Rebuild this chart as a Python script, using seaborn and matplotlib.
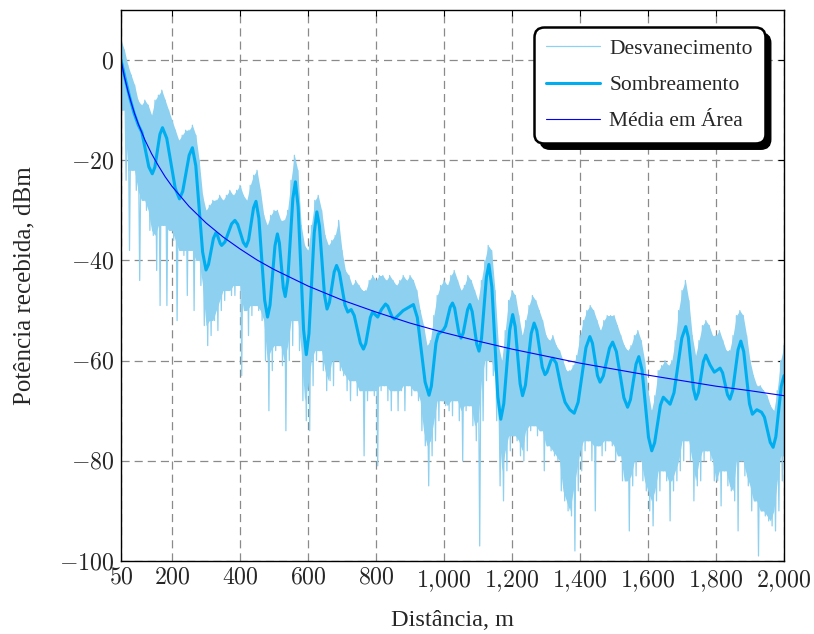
import numpy as np
import pandas as pd
import matplotlib
matplotlib.use("Agg")
import matplotlib.pyplot as plt
from matplotlib.ticker import FuncFormatter
from matplotlib.patches import FancyBboxPatch
from matplotlib.transforms import IdentityTransform
import seaborn as sns

# ---------------- data ----------------
# Area mean (Média em Área)
mean_d = [50, 60, 70, 80, 90, 100, 120, 140, 160, 180, 200, 250, 300, 350, 400, 450,
          500, 600, 700, 800, 900, 1000, 1100, 1200, 1300, 1400, 1500, 1600, 1700,
          1800, 1900, 2000]
mean_v = [0, -3.3, -6.1, -8.5, -10.7, -12.6, -15.9, -18.7, -21.1, -23.3, -25.2, -29.2,
          -32.5, -35.3, -37.7, -39.9, -41.8, -45.1, -47.9, -50.3, -52.5, -54.4, -56.1,
          -57.7, -59.1, -60.5, -61.7, -62.9, -64.0, -65.1, -66.0, -67.0]

# Shadowing (Sombreamento)
shadow_d = [50, 62, 75, 88, 101, 111.3, 131.8, 142, 149.5, 164.5, 172, 184.5, 209.5,
            222, 231.5, 250.5, 260, 270, 290, 300, 307.3, 321.8, 329, 333.3, 341.8,
            346, 355.8, 375.3, 385, 393.3, 409.8, 418, 425.3, 439.8, 447, 455.5, 472.5,
            481, 488.3, 502.8, 510, 515.8, 527.3, 533, 540.5, 555.5, 563, 571, 587,
            595, 602.8, 618.3, 626, 633.5, 648.5, 656, 663, 677, 684, 692.3, 708.8,
            717, 727, 736, 754, 763, 769.8, 783.3, 790, 805, 816, 828, 834.5, 847.5,
            854, 880, 910, 921.5, 944.5, 956, 962.8, 976.3, 983, 998, 1004.8, 1018.3,
            1025, 1031.3, 1043.8, 1050, 1056.5, 1069.5, 1076, 1082.8, 1096.3, 1103,
            1110.3, 1124.8, 1132, 1140.8, 1158.3, 1167, 1175.8, 1193.3, 1202, 1209.3,
            1223.8, 1231, 1239.5, 1256.5, 1265, 1273, 1289, 1297, 1302.8, 1314.3, 1320,
            1330, 1345, 1356, 1370, 1383, 1394.5, 1417.5, 1429, 1436.5, 1451.5, 1459,
            1468.3, 1486.8, 1496, 1507, 1529, 1540, 1548.3, 1564.8, 1573, 1582.5,
            1601.5, 1611, 1619.5, 1636.5, 1645, 1665, 1676.5, 1699.5, 1711, 1718.5,
            1733.5, 1741, 1748.3, 1762.8, 1770, 1782, 1795, 1812, 1819.3, 1833.8, 1841,
            1849, 1865, 1873, 1881.5, 1898.5, 1907, 1920, 1934, 1942.5, 1959.5, 1968,
            1976, 1992, 2000]
shadow_v = [0, -3.6, -7.3, -10.5, -13, -14.4, -21.3, -22.7, -21.4, -14.8, -13.5, -15.6,
            -25.6, -27.7, -26.2, -19.0, -17.5, -21.1, -38.3, -41.9, -40.8, -35.6, -34.5,
            -34.9, -36.6, -37, -36.3, -32.7, -32, -32.8, -36.4, -37.2, -35.9, -29.5,
            -28.2, -31.6, -47.9, -51.3, -48.9, -37.1, -34.7, -36.5, -45.4, -47.2,
            -43.9, -27.6, -24.3, -29.3, -53.8, -58.8, -54.6, -34.5, -30.3, -33.1,
            -46.9, -49.7, -48.4, -42.3, -41, -42.4, -48.9, -50.3, -49.8, -51.0, -56.5,
            -57.7, -56.6, -51.4, -50.3, -51.3, -49.8, -48.7, -49.1, -51.3, -51.7, -50,
            -48.8, -51.4, -64.3, -66.9, -65.1, -56.5, -54.7, -53.9, -53.1, -49.3,
            -48.5, -49.5, -54.5, -55.5, -54.5, -49.8, -48.8, -50.2, -56.7, -58.1,
            -55.6, -43.3, -40.8, -45.3, -67.2, -71.7, -68.6, -53.9, -50.8, -53.2,
            -64.6, -67, -64.9, -54.6, -52.5, -54.0, -61.3, -62.8, -62.3, -60.0, -59.5,
            -60.5, -65.5, -68.3, -69.8, -70.5, -68.3, -57.4, -55.2, -56.5, -63.0,
            -64.3, -63.1, -57.5, -56.3, -58.2, -67.4, -69.3, -67.8, -60.7, -59.2,
            -61.9, -75.3, -78, -76.4, -68.9, -67.3, -68.7, -66.4, -55.5, -53.2, -55.3,
            -65.6, -67.7, -66.4, -60.2, -58.9, -60.8, -62.3, -61.5, -62.4, -66.8,
            -67.7, -66.0, -57.8, -56.1, -58.2, -68.6, -70.7, -69.8, -70.3, -71.3,
            -76.3, -77.3, -75.2, -65.1, -63]

# Fading (Desvanecimento): upper and lower excursions every 10 m from 50 m
fade_d = list(range(50, 2001, 10))
fade_hi = [4, 2, -1, -3, -5, -8, -9, -8, -9, -11,
           -8, -7, -6, -8, -10, -12, -14, -16, -15, -14,
           -14, -13, -15, -20, -27, -30, -29, -28, -28, -27,
           -28, -27, -26, -27, -26, -25, -27, -28, -25, -23,
           -22, -26, -31, -33, -31, -30, -30, -32, -32, -30,
           -24, -19, -22, -33, -37, -38, -33, -28, -27, -30,
           -35, -37, -36, -35, -32, -38, -42, -43, -45, -44,
           -45, -46, -46, -44, -43, -44, -43, -43, -44, -43,
           -44, -45, -44, -43, -44, -43, -44, -46, -50, -53,
           -57, -56, -51, -47, -45, -44, -45, -43, -42, -44,
           -46, -45, -43, -44, -46, -48, -44, -40, -37, -38,
           -46, -57, -60, -54, -48, -46, -47, -51, -55, -52,
           -49, -47, -48, -50, -52, -55, -56, -55, -57, -58,
           -60, -62, -62, -61, -59, -55, -52, -50, -49, -50,
           -52, -54, -52, -51, -51, -51, -53, -55, -57, -58,
           -57, -55, -54, -56, -60, -66, -70, -67, -62, -61,
           -60, -61, -60, -56, -50, -46, -44, -48, -55, -59,
           -56, -53, -52, -53, -55, -55, -54, -56, -58, -58,
           -55, -51, -50, -51, -55, -60, -63, -65, -65, -66,
           -67, -69, -70, -66, -60, -57]
fade_lo = [-10, -24, -38, -22, -26, -44, -28, -30, -34, -35,
           -42, -49, -33, -49, -34, -36, -52, -38, -39, -47,
           -38, -50, -40, -45, -53, -57, -55, -52, -54, -50,
           -48, -46, -47, -47, -45, -63, -50, -55, -51, -49,
           -50, -52, -60, -70, -62, -58, -57, -61, -74, -60,
           -57, -52, -58, -68, -72, -74, -65, -60, -58, -62,
           -66, -64, -65, -60, -62, -63, -66, -68, -64, -67,
           -66, -79, -68, -66, -67, -81, -66, -65, -68, -70,
           -66, -70, -66, -70, -65, -67, -66, -68, -74, -77,
           -85, -79, -76, -72, -68, -69, -70, -71, -68, -72,
           -80, -70, -69, -73, -76, -97, -72, -64, -60, -63,
           -72, -85, -88, -82, -78, -75, -76, -79, -80, -78,
           -74, -73, -75, -74, -82, -77, -78, -79, -80, -86,
           -88, -90, -91, -98, -86, -82, -78, -76, -80, -90,
           -77, -79, -78, -76, -77, -80, -79, -84, -84, -94,
           -85, -83, -80, -84, -86, -90, -93, -88, -86, -82,
           -84, -92, -86, -84, -82, -80, -76, -80, -88, -85,
           -84, -80, -78, -80, -84, -84, -89, -82, -85, -86,
           -88, -94, -80, -83, -85, -90, -88, -99, -90, -91,
           -92, -93, -94, -90, -84, -79]

x_ticks = [50, 200, 400, 600, 800, 1000, 1200, 1400, 1600, 1800, 2000]
y_ticks = [-100, -80, -60, -40, -20, 0]

labels = ["Desvanecimento", "Sombreamento", "Média em Área"]

# ---------------- style ----------------
sns.set_theme(style="white")
plt.rcParams["font.family"] = ["Liberation Serif", "DejaVu Serif"]
plt.rcParams["mathtext.fontset"] = "cm"

C_FADE = "#8dd0ef"
C_SHADOW = "#00aeef"
C_MEAN = "#0000ff"

fig = plt.figure(figsize=(8.14, 6.34), dpi=100)
ax = fig.add_axes([121 / 814, 1 - 561 / 634, 663 / 814, 551 / 634])

# fading: dense core between the upper excursions and the shallower lower ones ...
fd = np.asarray(fade_d, dtype=float)
core_lo = pd.Series(fade_lo).rolling(3, center=True, min_periods=1).max().to_numpy()
ax.fill_between(fd, core_lo, np.asarray(fade_hi, dtype=float), color=C_FADE,
                lw=0, zorder=1.5)
# ... and each 10 m sample drawn as an upper then a lower excursion
fx = np.column_stack([fd, fd + 5]).ravel()
fy = np.column_stack([fade_hi, fade_lo]).ravel()
fade_df = pd.DataFrame({"d": fx, "v": fy})
sns.lineplot(data=fade_df, x="d", y="v", ax=ax, color=C_FADE, lw=0.9,
             estimator=None, sort=False, label=labels[0])

sh_df = pd.DataFrame({"d": shadow_d, "v": shadow_v})
sns.lineplot(data=sh_df, x="d", y="v", ax=ax, color=C_SHADOW, lw=2.2,
             estimator=None, sort=False, label=labels[1],
             solid_joinstyle="round", solid_capstyle="round")

mn_df = pd.DataFrame({"d": mean_d, "v": mean_v})
sns.lineplot(data=mn_df, x="d", y="v", ax=ax, color=C_MEAN, lw=0.8,
             estimator=None, sort=False, label=labels[2])

ax.set_xlim(50, 2000)
ax.set_ylim(-100, 10)
ax.set_xticks(x_ticks)
ax.set_yticks(y_ticks)


def fmt(v, pos):
    s = f"{int(round(v)):,}".replace(",", "{,}")
    return "$" + s + "$"


ax.xaxis.set_major_formatter(FuncFormatter(fmt))
ax.yaxis.set_major_formatter(FuncFormatter(fmt))
ax.tick_params(direction="in", length=4, width=0.8, color="black",
               top=True, right=True, labelsize=17.2, pad=5)
ax.set_axisbelow(True)
ax.grid(True, color="#8a8a8a", lw=0.9, ls=(0, (6.5, 4)))
for sp in ax.spines.values():
    sp.set_color("black")
    sp.set_linewidth(1.0)
    sp.set_visible(True)

ax.set_xlabel("Distância, m", fontsize=17.5, labelpad=12)
ax.set_ylabel("Potência recebida, dBm", fontsize=18, labelpad=17)

leg = ax.legend(loc="upper right", bbox_to_anchor=(0.971, 0.969),
                borderaxespad=0, fontsize=15.5, frameon=True, fancybox=True,
                handlelength=2.5, handletextpad=0.45, labelspacing=0.75,
                borderpad=0.55)
leg.set_zorder(6)
frame = leg.get_frame()
frame.set_edgecolor("black")
frame.set_linewidth(1.8)
frame.set_facecolor("white")
frame.set_alpha(1.0)
frame.set_boxstyle("round,pad=0,rounding_size=0.45")

# drop shadow behind the legend box
fig.canvas.draw()
bb = leg.get_window_extent()
off = 6
shadow = FancyBboxPatch((bb.x0 + off, bb.y0 - off), bb.width, bb.height,
                        boxstyle="round,pad=0,rounding_size=10",
                        transform=IdentityTransform(), fc="black", ec="black",
                        zorder=5.5, clip_on=False)
ax.add_artist(shadow)

fig.savefig("out.png", dpi=100)
